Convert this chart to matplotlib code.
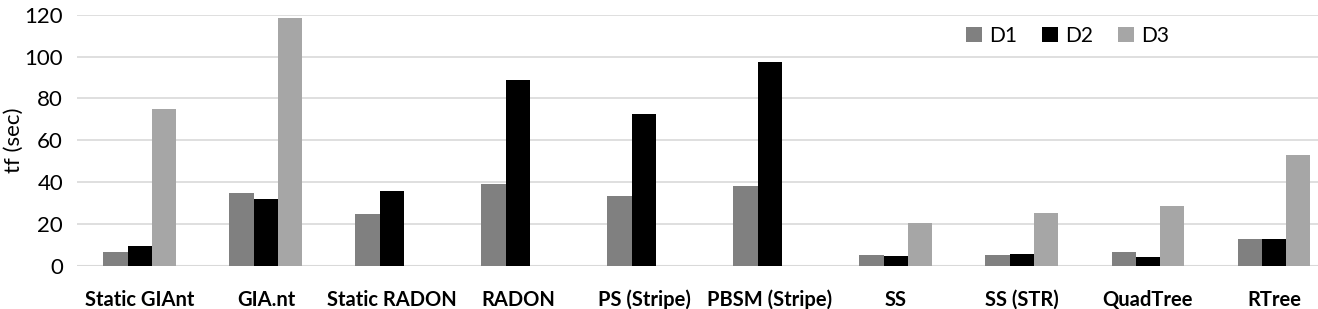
import matplotlib.pyplot as plt
import numpy as np

categories = ["Static GIAnt", "GIA.nt", "Static RADON", "RADON", "PS (Stripe)",
              "PBSM (Stripe)", "SS", "SS (STR)", "QuadTree", "RTree"]
d1 = [6.7, 34.9, 24.8, 39.2, 33.4, 38.2, 5.3, 5.3, 6.7, 12.9]
d2 = [9.5, 32.0, 35.8, 88.8, 72.6, 97.4, 4.8, 5.7, 4.3, 12.9]
d3 = [75.0, 118.4, 0, 0, 0, 0, 20.5, 25.3, 28.6, 53.0]

plt.rcParams["font.family"] = ["Lato", "DejaVu Sans"]

fig = plt.figure(figsize=(13.18, 3.09), dpi=100)
# the original plot area runs past the right edge of the image
ax = fig.add_axes([0.0584, 0.1392, 0.956, 0.8132])

x = np.arange(len(categories))
w = 0.193
ax.bar(x - w, d1, w, color="#808080", label="D1", zorder=3)
ax.bar(x, d2, w, color="#000000", label="D2", zorder=3)
ax.bar(x + w, d3, w, color="#a6a6a6", label="D3", zorder=3)

ax.set_xlim(-0.5, len(categories) - 0.5)
ax.set_ylim(0, 120)
ax.set_yticks(range(0, 121, 20))
ax.yaxis.grid(True, color="#d9d9d9", linewidth=1.2, zorder=0)
ax.axhline(0, color="#d9d9d9", linewidth=1.5, zorder=2)
for s in ax.spines.values():
    s.set_visible(False)
ax.tick_params(length=0)
ax.tick_params(axis="y", labelsize=16, pad=10, labelcolor="#000000")
ax.set_xticks(x)
ax.set_xticklabels(categories, fontsize=14.5, fontweight="bold")
ax.tick_params(axis="x", pad=17)
ax.set_ylabel("tf (sec)", fontsize=16)
ax.yaxis.set_label_coords(-0.042, 0.5)

fig.legend(loc="center", bbox_to_anchor=(0.81, 0.885), ncol=3, frameon=False,
           fontsize=15, handlelength=0.75, handleheight=0.75, columnspacing=1.2,
           handletextpad=0.35)

fig.savefig("out.png", dpi=100)
